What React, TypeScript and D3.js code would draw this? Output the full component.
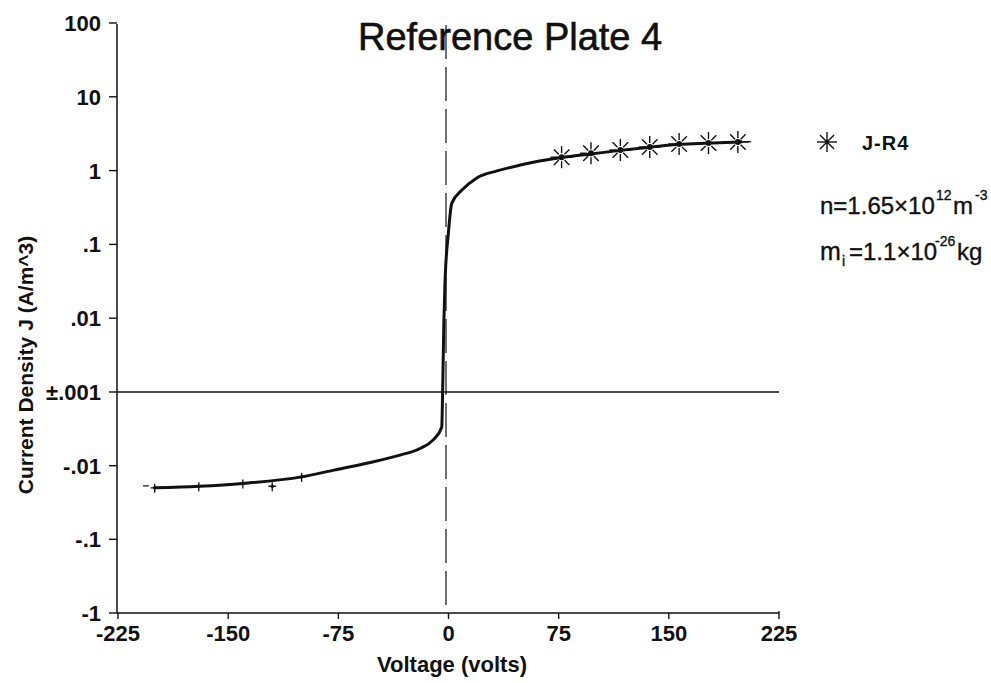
import React from "react";
import * as d3 from "d3";

// ---- data ----
const curveV = [-200, -170, -140, -100, -78, -55, -33, -19, -10.6, -4.6, -4.0, -3.2, -2.4, -0.1, 2.2, 9, 19, 33, 49, 77, 97, 117, 137, 157, 177, 197, 200];
const curveJ = [-0.02, -0.019, -0.0174, -0.0142, -0.0115, -0.0092, -0.0072, -0.0058, -0.0045, -0.003, 0.001, 0.008, 0.03, 0.14, 0.36, 0.54, 0.79, 0.99, 1.19, 1.5, 1.68, 1.88, 2.07, 2.27, 2.36, 2.44, 2.46];

const starV = [77, 97, 117, 137, 157, 177, 197];
const starJ = [1.52, 1.72, 1.9, 2.09, 2.29, 2.36, 2.44];

const negMarkV = [-200, -170, -140, -120, -100];
const negMarkJ = [-0.02, -0.019, -0.0174, -0.019, -0.0142];

const xTicks = [-225, -150, -75, 0, 75, 150, 225];
const xTickLabels = ["-225", "-150", "-75", "0", "75", "150", "225"];
const yTicks = [100, 10, 1, 0.1, 0.01, 0.001, -0.01, -0.1, -1];
const yTickLabels = ["100", "10", "1", ".1", ".01", "±.001", "-.01", "-.1", "-1"];

const title = "Reference Plate 4";
const xTitle = "Voltage (volts)";
const yTitle = "Current Density J (A/m^3)";
const seriesName = "J-R4";

// ---- layout ----
const W = 991, H = 683;
const x0 = 118, x1 = 779;
const yTop = 23, yMid = 392, yBot = 613;
const FONT = "'Liberation Sans', Arial, Helvetica, sans-serif";

const x = d3.scaleLinear().domain([-225, 225]).range([x0, x1]);
const yPos = d3.scaleLog().domain([100, 0.001]).range([yTop, yMid]);
const yNeg = d3.scaleLog().domain([0.001, 1]).range([yMid, yBot]);
const y = (v: number) => (v >= 0 ? yPos(Math.max(v, 0.001)) : yNeg(Math.max(-v, 0.001)));

function Star({ cx, cy, r0, r1, dot }: { cx: number; cy: number; r0: number; r1: number; dot: number }) {
  const angles = d3.range(8).map((i) => (i * Math.PI) / 4);
  return (
    <g>
      {angles.map((a, i) => (
        <line key={i} x1={cx + r0 * Math.cos(a)} y1={cy + r0 * Math.sin(a)} x2={cx + r1 * Math.cos(a)} y2={cy + r1 * Math.sin(a)} stroke="#111" strokeWidth={1.4} />
      ))}
      <circle cx={cx} cy={cy} r={dot} fill="#111" />
    </g>
  );
}

export default function App() {
  const pts = curveV.map((v, i) => [x(v), y(curveJ[i])] as [number, number]);
  const path = d3.line().curve(d3.curveMonotoneX)(pts) || "";
  const leg = { fill: "#111", stroke: "#111", strokeWidth: 0.35 } as const;

  return (
    <svg width={W} height={H} style={{ position: "absolute", left: 0, top: 0, background: "#fff" }} fontFamily={FONT}>
      <rect width={W} height={H} fill="#fff" />
      {/* title */}
      <text x={358} y={50} fontSize={38} fill="#111" stroke="#111" strokeWidth={0.6}>{title}</text>

      {/* zero-level horizontal line */}
      <line x1={x0 - 1} x2={x1} y1={yMid} y2={yMid} stroke="#111" strokeWidth={1.3} />
      {/* vertical line at V = 0 */}
      <line x1={x(0) - 2.5} x2={x(0) - 2.5} y1={yTop + 2} y2={yBot} stroke="#111" strokeWidth={1.2} strokeDasharray="34 8" />

      {/* y axis */}
      <line x1={x0 - 1} x2={x0 - 1} y1={yTop + 1} y2={yBot} stroke="#111" strokeWidth={1.5} />
      {yTicks.map((t, i) => (
        <g key={i}>
          <line x1={x0 - 9} x2={x0 - 1} y1={y(t)} y2={y(t)} stroke="#111" strokeWidth={1.4} />
          <text x={101} y={y(t)} dy="0.36em" textAnchor="end" fontSize={22} fontWeight="bold" fill="#111">{yTickLabels[i]}</text>
        </g>
      ))}

      {/* x axis */}
      <line x1={x0 - 1} x2={x1} y1={yBot} y2={yBot} stroke="#111" strokeWidth={1.5} />
      {xTicks.map((t, i) => (
        <g key={i}>
          <line x1={x(t)} x2={x(t)} y1={i === xTicks.length - 1 ? yBot - 2 : yBot} y2={yBot + 6} stroke="#111" strokeWidth={1.4} />
          <text x={x(t)} y={641} textAnchor="middle" fontSize={22} fontWeight="bold" fill="#111">{xTickLabels[i]}</text>
        </g>
      ))}

      {/* axis titles */}
      <text x={452} y={672} textAnchor="middle" fontSize={22} fontWeight="bold" fill="#111">{xTitle}</text>
      <text transform={`translate(33,365) rotate(-90)`} textAnchor="middle" fontSize={21} fontWeight="bold" fill="#111">{yTitle}</text>

      {/* curve */}
      <path d={path} fill="none" stroke="#111" strokeWidth={3} strokeLinejoin="round" />
      <line x1={x(200)} x2={x(206)} y1={y(2.46)} y2={y(2.47)} stroke="#111" strokeWidth={1.2} />

      {/* negative-side markers */}
      {negMarkV.map((v, i) => (
        <g key={i}>
          <line x1={x(v) - 4} x2={x(v) + 4} y1={y(negMarkJ[i])} y2={y(negMarkJ[i])} stroke="#111" strokeWidth={1.3} />
          <line x1={x(v)} x2={x(v)} y1={y(negMarkJ[i]) - 4} y2={y(negMarkJ[i]) + 5} stroke="#111" strokeWidth={1.3} />
          <circle cx={x(v)} cy={y(negMarkJ[i])} r={1.8} fill="#111" />
        </g>
      ))}
      <line x1={x(-208)} x2={x(-204)} y1={y(-0.0188)} y2={y(-0.0188)} stroke="#111" strokeWidth={1.2} />

      {/* star markers */}
      {starV.map((v, i) => (
        <Star key={i} cx={x(v)} cy={y(starJ[i])} r0={4} r1={11} dot={3} />
      ))}

      {/* legend */}
      <Star cx={827} cy={142} r0={1} r1={10} dot={2} />
      <text x={862} y={150} fontSize={20} fontWeight="bold" letterSpacing={1} fill="#111">{seriesName}</text>

      <text x={820} y={214} fontSize={24} {...leg}>n=1.65×10</text>
      <text x={936} y={200} fontSize={14} {...leg}>12</text>
      <text x={953} y={214} fontSize={24} {...leg}>m</text>
      <text x={975} y={200} fontSize={14} {...leg}>-3</text>

      <text x={820} y={260} fontSize={25} {...leg}>m</text>
      <text x={842} y={266} fontSize={14} {...leg}>i</text>
      <text x={849} y={260} fontSize={24} {...leg}>=1.1×10</text>
      <text x={935} y={246} fontSize={14} {...leg}>-26</text>
      <text x={957} y={260} fontSize={24} {...leg}>kg</text>
    </svg>
  );
}
